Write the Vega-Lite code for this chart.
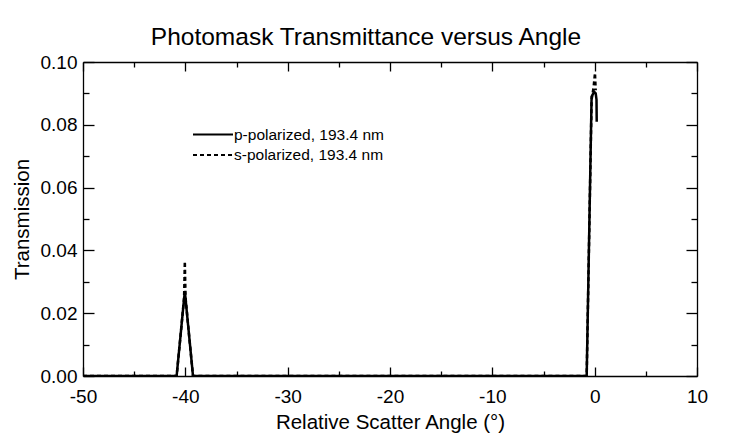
{
  "$schema": "https://vega.github.io/schema/vega-lite/v6.json",
  "width": 614,
  "height": 314,
  "autosize": {"type": "none"},
  "padding": {"left": 83, "top": 62, "right": 47, "bottom": 66},
  "background": "white",
  "title": {
    "text": "Photomask Transmittance versus Angle",
    "fontSize": 24.5,
    "fontWeight": "normal",
    "font": "Liberation Sans",
    "color": "black",
    "frame": "group",
    "anchor": "middle",
    "dx": -24,
    "offset": 3
  },
  "config": {
    "view": {"stroke": null},
    "axis": {
      "grid": false,
      "domainColor": "black",
      "domainWidth": 1.3,
      "tickColor": "black",
      "tickWidth": 1.3,
      "labelFont": "Liberation Sans",
      "labelFontSize": 19,
      "labelColor": "black",
      "titleFont": "Liberation Sans",
      "titleFontSize": 20.5,
      "titleFontWeight": "normal",
      "titleColor": "black",
      "labelFlush": false,
      "labelOverlap": false
    },
    "legend": {
      "labelFont": "Liberation Sans",
      "labelFontSize": 15.5,
      "labelColor": "black"
    }
  },
  "data": {
    "values": [
      {"pol": "p-polarized, 193.4 nm", "angle": -50, "trans": 0},
      {"pol": "p-polarized, 193.4 nm", "angle": -40.85, "trans": 0},
      {"pol": "p-polarized, 193.4 nm", "angle": -40.45, "trans": 0.0135},
      {"pol": "p-polarized, 193.4 nm", "angle": -40.05, "trans": 0.027},
      {"pol": "p-polarized, 193.4 nm", "angle": -39.65, "trans": 0.0135},
      {"pol": "p-polarized, 193.4 nm", "angle": -39.25, "trans": 0},
      {"pol": "p-polarized, 193.4 nm", "angle": -0.78, "trans": 0},
      {"pol": "p-polarized, 193.4 nm", "angle": -0.3, "trans": 0.089},
      {"pol": "p-polarized, 193.4 nm", "angle": -0.05, "trans": 0.0905},
      {"pol": "p-polarized, 193.4 nm", "angle": 0.1, "trans": 0.09},
      {"pol": "p-polarized, 193.4 nm", "angle": 0.18, "trans": 0.088},
      {"pol": "p-polarized, 193.4 nm", "angle": 0.2, "trans": 0.081},
      {"pol": "s-polarized, 193.4 nm", "angle": -50, "trans": 0},
      {"pol": "s-polarized, 193.4 nm", "angle": -40.85, "trans": 0},
      {"pol": "s-polarized, 193.4 nm", "angle": -40.45, "trans": 0.0135},
      {"pol": "s-polarized, 193.4 nm", "angle": -40.12, "trans": 0.025},
      {"pol": "s-polarized, 193.4 nm", "angle": -40.05, "trans": 0.0365},
      {"pol": "s-polarized, 193.4 nm", "angle": -39.98, "trans": 0.025},
      {"pol": "s-polarized, 193.4 nm", "angle": -39.65, "trans": 0.0135},
      {"pol": "s-polarized, 193.4 nm", "angle": -39.25, "trans": 0},
      {"pol": "s-polarized, 193.4 nm", "angle": -0.78, "trans": 0},
      {"pol": "s-polarized, 193.4 nm", "angle": -0.3, "trans": 0.088},
      {"pol": "s-polarized, 193.4 nm", "angle": -0.1, "trans": 0.092},
      {"pol": "s-polarized, 193.4 nm", "angle": 0.03, "trans": 0.0965},
      {"pol": "s-polarized, 193.4 nm", "angle": 0.1, "trans": 0.091}
    ]
  },
  "layer": [
    {
      "mark": {"type": "line", "color": "black", "strokeWidth": 2.5, "clip": true},
      "encoding": {
        "x": {
          "field": "angle", "type": "quantitative",
          "scale": {"domain": [-50, 10], "nice": false},
          "axis": {
            "orient": "bottom",
            "values": [-50, -40, -30, -20, -10, 0, 10],
            "labelExpr": "datum.value < 0 ? '-' + abs(datum.value) : '' + datum.value",
            "tickSize": -9,
            "labelPadding": 20,
            "title": "Relative Scatter Angle (°)",
            "titlePadding": 6
          }
        },
        "y": {
          "field": "trans", "type": "quantitative",
          "scale": {"domain": [0, 0.1], "nice": false},
          "axis": {
            "orient": "left",
            "values": [0, 0.02, 0.04, 0.06, 0.08, 0.1],
            "format": ".2f",
            "tickSize": -11,
            "labelPadding": 17,
            "title": "Transmission",
            "titlePadding": 8
          }
        },
        "strokeDash": {
          "field": "pol", "type": "nominal",
          "scale": {
            "domain": ["p-polarized, 193.4 nm", "s-polarized, 193.4 nm"],
            "range": [[1, 0], [4, 3]]
          },
          "legend": {
            "title": null,
            "orient": "none",
            "legendX": 119,
            "legendY": 61.5,
            "symbolType": "M-2,0H2",
            "symbolSize": 400,
            "symbolStrokeWidth": 2,
            "symbolStrokeColor": "black",
            "labelOffset": 10,
            "rowPadding": 0.5
          }
        }
      }
    },
    {
      "mark": {"type": "point", "opacity": 0},
      "encoding": {
        "x": {
          "field": "angle", "type": "quantitative",
          "axis": {"orient": "bottom", "values": [-45, -35, -25, -15, -5, 5], "tickSize": -5, "labels": false, "domain": false, "title": null}
        },
        "y": {
          "field": "trans", "type": "quantitative",
          "axis": {"orient": "left", "values": [0.01, 0.03, 0.05, 0.07, 0.09], "tickSize": -6, "labels": false, "domain": false, "title": null}
        }
      }
    },
    {
      "mark": {"type": "point", "opacity": 0},
      "encoding": {
        "x": {
          "field": "angle", "type": "quantitative",
          "axis": {"orient": "top", "values": [-50, -40, -30, -20, -10, 0, 10], "tickSize": -9, "labels": false, "title": null}
        },
        "y": {
          "field": "trans", "type": "quantitative",
          "axis": {"orient": "right", "values": [0, 0.02, 0.04, 0.06, 0.08, 0.1], "tickSize": -11, "labels": false, "title": null}
        }
      }
    },
    {
      "mark": {"type": "point", "opacity": 0},
      "encoding": {
        "x": {
          "field": "angle", "type": "quantitative",
          "axis": {"orient": "top", "values": [-45, -35, -25, -15, -5, 5], "tickSize": -5, "labels": false, "domain": false, "title": null}
        },
        "y": {
          "field": "trans", "type": "quantitative",
          "axis": {"orient": "right", "values": [0.01, 0.03, 0.05, 0.07, 0.09], "tickSize": -6, "labels": false, "domain": false, "title": null}
        }
      }
    }
  ],
  "resolve": {"axis": {"x": "independent", "y": "independent"}}
}
